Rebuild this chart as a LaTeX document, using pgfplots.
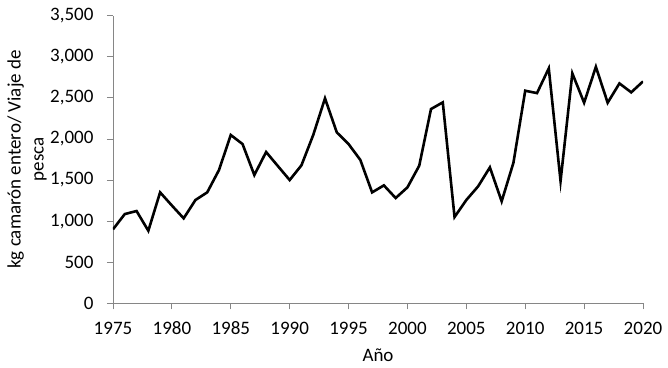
\documentclass[border=0pt]{standalone}
\usepackage{pgfplots}
\pgfplotsset{compat=1.18}
\usepackage{fontspec}
\setmainfont{Carlito}
\definecolor{axgray}{HTML}{868686}
\pgfplotstableread{
year val
1975 900
1976 1086
1977 1123
1978 883
1979 1350
1980 1190
1981 1034
1982 1257
1983 1350
1984 1622
1985 2048
1986 1938
1987 1561
1988 1841
1989 1670
1990 1500
1991 1679
1992 2048
1993 2494
1994 2080
1995 1938
1996 1745
1997 1350
1998 1435
1999 1281
2000 1411
2001 1674
2002 2364
2003 2445
2004 1050
2005 1257
2006 1423
2007 1654
2008 1241
2009 1711
2010 2587
2011 2558
2012 2859
2013 1488
2014 2798
2015 2441
2016 2878
2017 2441
2018 2676
2019 2567
2020 2700
}\mydata
\begin{document}
\begin{tikzpicture}
\begin{axis}[
  scale only axis,
  width=530pt, height=287.6pt,
  xmin=1975, xmax=2020, ymin=0, ymax=3500,
  xtick distance=5, ytick distance=500,
  axis lines*=left,
  axis line style={axgray, line width=0.8pt},
  tick style={axgray, line width=0.8pt},
  tick align=outside,
  major tick length=6pt,
  /pgf/number format/assume math mode=true,
  tick label style={black, font=\fontsize{19}{22}\selectfont},
  yticklabel style={xshift=-10pt, /pgf/number format/.cd, 1000 sep={,}},
  xticklabel style={yshift=-9pt, /pgf/number format/.cd, 1000 sep={}},
  xlabel={Año},
  ylabel={kg camarón entero/ Viaje de\\pesca},
  xlabel style={at={(axis description cs:0.5,-0.181)}, anchor=center, font=\fontsize{19}{22}\selectfont},
  ylabel style={at={(axis description cs:-0.1623,0.5)}, anchor=center, align=center, font=\fontsize{19}{23}\selectfont},
]
\addplot[black, line width=2.6pt, line join=miter] table[x=year, y=val] {\mydata};
\end{axis}
\pgfresetboundingbox
\path ([shift={(-113pt,-64.7pt)}]current axis.south west) rectangle ([shift={(25pt,15.7pt)}]current axis.north east);
\end{tikzpicture}
\end{document}
